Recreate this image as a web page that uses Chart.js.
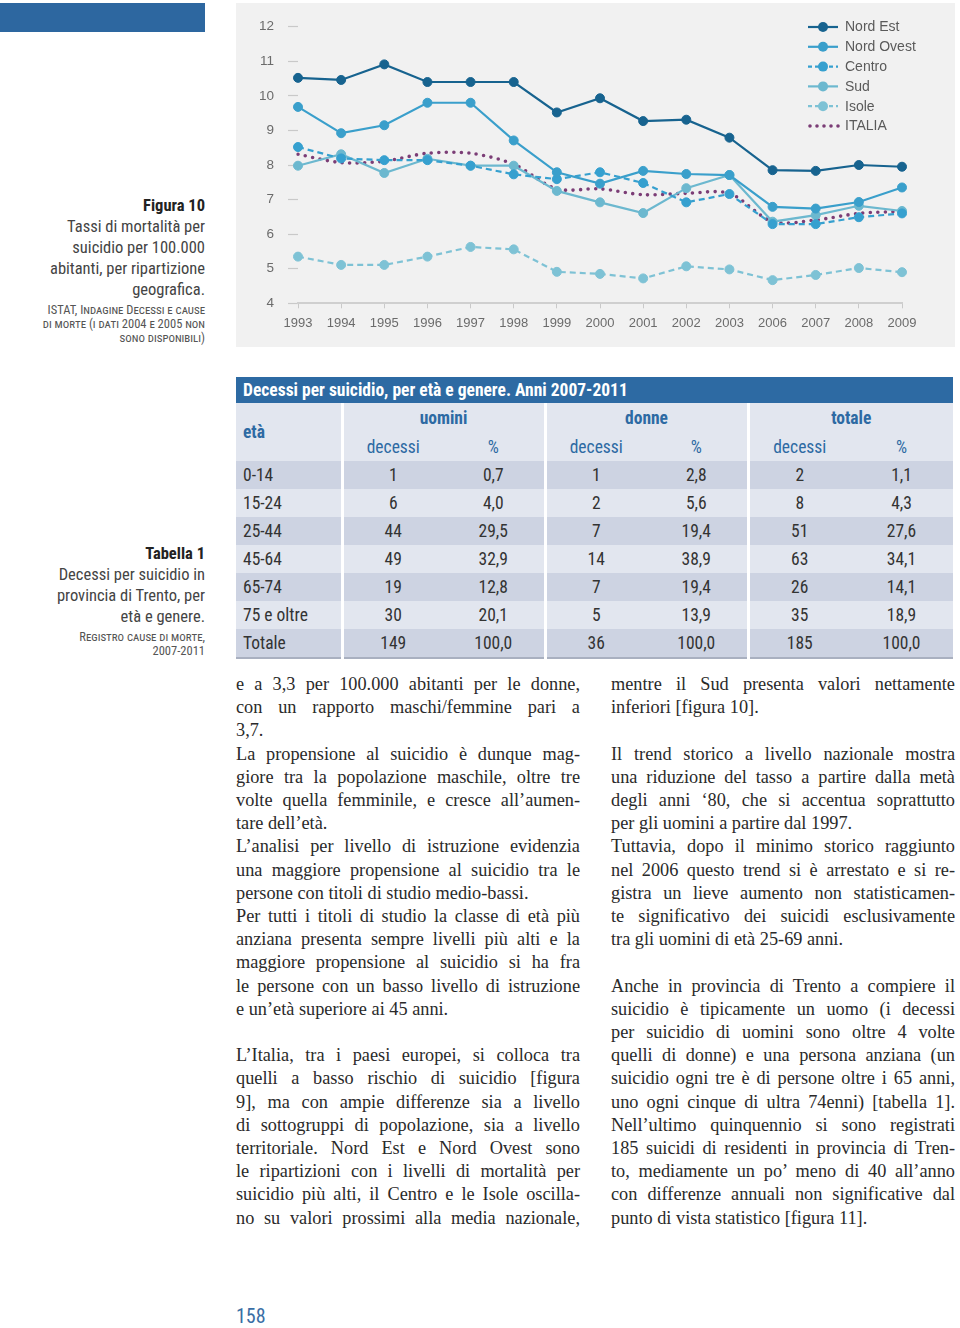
<!DOCTYPE html>
<html>
<head>
<meta charset="utf-8">
<script src="https://cdn.jsdelivr.net/npm/chart.js@4.4.1/dist/chart.umd.min.js"></script>
<style>
  html, body { margin:0; padding:0; background:#fff; }
  body { width:960px; height:1328px; position:relative; overflow:hidden; }
  .abs { position:absolute; }
  .cond { font-family:"Liberation Sans Narrow","Roboto Condensed","Roboto",sans-serif; }
  #topbar { left:0; top:3px; width:205px; height:29px; background:#2d67a0; }
  #panel { left:236px; top:3px; width:719px; height:344px; background:#f1f1f1; }
  #panel canvas { display:block; }
  .cap { right:755px; text-align:right; color:#333; }
  .cap .t { font-weight:bold; font-size:16.5px; color:#222; line-height:21px; }
  .cap .d { font-size:16.5px; line-height:21px; color:#444; }
  .cap .s { font-variant:small-caps; font-size:12.5px; line-height:14px; color:#555; margin-top:3px; }
  table { border-collapse:collapse; }
  #tbl { left:236px; top:377px; width:717px; table-layout:fixed; font-size:17.5px; color:#333; }
  #tbl td { padding:0; height:28px; text-align:center; }
  #tbl tr.title td { background:#2d6aa3; color:#fff; font-weight:bold; text-align:left; padding-left:7px; height:26px; }
  #tbl tr.h td { background:#e2e6ef; color:#2d6aa3; height:29px; }
  #tbl tr.h td.g { font-weight:bold; }
  #tbl tr.dk td { background:#cdd3e2; }
  #tbl tr.lt td { background:#e2e6ef; }
  #tbl td.sep { border-left:3px solid #fff; }
  #tbl td.lbl { text-align:left; padding-left:7px; }
  #tbl tr.last td { border-bottom:2px solid #a9b0c0; }
  .col { width:344px; font-family:"Liberation Serif","Times New Roman",serif; font-size:18.3px; line-height:23.2px; color:#2a2a2a; }
  .col div { text-align:justify; text-align-last:justify; white-space:nowrap; }
  .col div.l { text-align-last:left; }
  .col div.b { height:23.2px; }
  #pg { left:236px; top:1304px; font-size:20px; color:#3a6ea5; }
</style>
</head>
<body>
<div id="topbar" class="abs"></div>
<div id="panel" class="abs"><canvas id="c" width="719" height="344"></canvas></div>

<div class="abs cap cond" style="top:195px;">
  <div class="t">Figura 10</div>
  <div class="d">Tassi di mortalità per<br>suicidio per 100.000<br>abitanti, per ripartizione<br>geografica.</div>
  <div class="s">ISTAT, Indagine Decessi e cause<br>di morte (i dati 2004 e 2005 non<br>sono disponibili)</div>
</div>

<div class="abs cap cond" style="top:543px;">
  <div class="t">Tabella 1</div>
  <div class="d">Decessi per suicidio in<br>provincia di Trento, per<br>età e genere.</div>
  <div class="s">Registro cause di morte,<br>2007-2011</div>
</div>

<table id="tbl" class="abs cond">
  <colgroup><col style="width:106px"><col style="width:101px"><col style="width:102px"><col style="width:101px"><col style="width:102px"><col style="width:102px"><col style="width:103px"></colgroup>
  <tbody id="tb"></tbody>
</table>

<div class="abs col" style="left:236px; top:673px;" id="colL"></div>
<div class="abs col" style="left:611px; top:673px;" id="colR"></div>

<div id="pg" class="abs cond">158</div>

<script>
// ---------- chart data ----------
const years = ['1993','1994','1995','1996','1997','1998','1999','2000','2001','2002','2003','2006','2007','2008','2009'];
const nordEst   = [10.52,10.46,10.91,10.40,10.40,10.40,9.52,9.93,9.27,9.31,8.79,7.85,7.83,8.00,7.95];
const nordOvest = [9.68,8.92,9.15,9.80,9.80,8.71,7.79,7.46,7.83,7.74,7.71,6.79,6.74,6.93,7.35];
const centro    = [8.52,8.19,8.14,8.14,7.98,7.73,7.59,7.79,7.48,6.92,7.16,6.29,6.29,6.49,6.60];
const sud       = [7.98,8.31,7.77,8.18,7.98,7.98,7.25,6.92,6.61,7.33,7.71,6.36,6.55,6.82,6.67];
const isole     = [5.35,5.11,5.11,5.35,5.63,5.56,4.91,4.85,4.72,5.07,4.98,4.67,4.82,5.02,4.90];
const italia    = [8.31,8.07,8.11,8.34,8.34,8.02,7.31,7.31,7.14,7.18,7.18,6.36,6.41,6.60,6.66];
const seriesNames = ['Nord Est','Nord Ovest','Centro','Sud','Isole','ITALIA'];

// ---------- table data ----------
const tableTitle = 'Decessi per suicidio, per età e genere. Anni 2007-2011';
const ageClasses = ['0-14','15-24','25-44','45-64','65-74','75 e oltre','Totale'];
const uominiDecessi = ['1','6','44','49','19','30','149'];
const uominiPct     = ['0,7','4,0','29,5','32,9','12,8','20,1','100,0'];
const donneDecessi  = ['1','2','7','14','7','5','36'];
const donnePct      = ['2,8','5,6','19,4','38,9','19,4','13,9','100,0'];
const totaleDecessi = ['2','8','51','63','26','35','185'];
const totalePct     = ['1,1','4,3','27,6','34,1','14,1','18,9','100,0'];

// build table
(function(){
  const tb = document.getElementById('tb');
  let h = '<tr class="title"><td colspan="7">'+tableTitle+'</td></tr>';
  h += '<tr class="h"><td class="lbl g" rowspan="2" style="vertical-align:middle">età</td>'+
       '<td class="g sep" colspan="2">uomini</td><td class="g sep" colspan="2">donne</td><td class="g sep" colspan="2">totale</td></tr>';
  h += '<tr class="h"><td class="sep">decessi</td><td>%</td><td class="sep">decessi</td><td>%</td><td class="sep">decessi</td><td>%</td></tr>';
  ageClasses.forEach((a,i)=>{
    const cls = (i%2===0?'dk':'lt') + (i===ageClasses.length-1?' last':'');
    h += '<tr class="'+cls+'"><td class="lbl">'+a+'</td><td class="sep">'+uominiDecessi[i]+'</td><td>'+uominiPct[i]+
         '</td><td class="sep">'+donneDecessi[i]+'</td><td>'+donnePct[i]+'</td><td class="sep">'+totaleDecessi[i]+'</td><td>'+totalePct[i]+'</td></tr>';
  });
  tb.innerHTML = h;
})();

// ---------- body text ----------
const leftLines = [
 ['e a 3,3 per 100.000 abitanti per le donne,','j'],
 ['con un rapporto maschi/femmine pari a','j'],
 ['3,7.','l'],
 ['La propensione al suicidio è dunque mag-','j'],
 ['giore tra la popolazione maschile, oltre tre','j'],
 ['volte quella femminile, e cresce all’aumen-','j'],
 ['tare dell’età.','l'],
 ['L’analisi per livello di istruzione evidenzia','j'],
 ['una maggiore propensione al suicidio tra le','j'],
 ['persone con titoli di studio medio-bassi.','l'],
 ['Per tutti i titoli di studio la classe di età più','j'],
 ['anziana presenta sempre livelli più alti e la','j'],
 ['maggiore propensione al suicidio si ha fra','j'],
 ['le persone con un basso livello di istruzione','j'],
 ['e un’età superiore ai 45 anni.','l'],
 ['','b'],
 ['L’Italia, tra i paesi europei, si colloca tra','j'],
 ['quelli a basso rischio di suicidio [figura','j'],
 ['9], ma con ampie differenze sia a livello','j'],
 ['di sottogruppi di popolazione, sia a livello','j'],
 ['territoriale. Nord Est e Nord Ovest sono','j'],
 ['le ripartizioni con i livelli di mortalità per','j'],
 ['suicidio più alti, il Centro e le Isole oscilla-','j'],
 ['no su valori prossimi alla media nazionale,','j']
];
const rightLines = [
 ['mentre il Sud presenta valori nettamente','j'],
 ['inferiori [figura 10].','l'],
 ['','b'],
 ['Il trend storico a livello nazionale mostra','j'],
 ['una riduzione del tasso a partire dalla metà','j'],
 ['degli anni ‘80, che si accentua soprattutto','j'],
 ['per gli uomini a partire dal 1997.','l'],
 ['Tuttavia, dopo il minimo storico raggiunto','j'],
 ['nel 2006 questo trend si è arrestato e si re-','j'],
 ['gistra un lieve aumento non statisticamen-','j'],
 ['te significativo dei suicidi esclusivamente','j'],
 ['tra gli uomini di età 25-69 anni.','l'],
 ['','b'],
 ['Anche in provincia di Trento a compiere il','j'],
 ['suicidio è tipicamente un uomo (i decessi','j'],
 ['per suicidio di uomini sono oltre 4 volte','j'],
 ['quelli di donne) e una persona anziana (un','j'],
 ['suicidio ogni tre è di persone oltre i 65 anni,','j'],
 ['uno ogni cinque di ultra 74enni) [tabella 1].','j'],
 ['Nell’ultimo quinquennio si sono registrati','j'],
 ['185 suicidi di residenti in provincia di Tren-','j'],
 ['to, mediamente un po’ meno di 40 all’anno','j'],
 ['con differenze annuali non significative dal','j'],
 ['punto di vista statistico [figura 11].','l']
];
function fill(id, lines){
  const el = document.getElementById(id);
  lines.forEach(([t,k])=>{
    const d = document.createElement('div');
    if (k==='l') d.className='l';
    if (k==='b') d.className='b';
    d.textContent = t;
    el.appendChild(d);
  });
}
fill('colL', leftLines);
fill('colR', rightLines);

// ---------- chart ----------
Chart.defaults.font.family = '"Liberation Sans", Arial, sans-serif';
const cNE = '#17638f', cNO = '#3a9fcb', cCE = '#36a0cf', cSU = '#6cb8cf', cIS = '#7ec2d5', cIT = '#7b3d76';
function ds(label, data, color, dash, extra){
  return Object.assign({
    label, data, borderColor:color, backgroundColor:color,
    pointBackgroundColor:color, pointBorderColor:color,
    borderWidth:2.2, borderDash:dash, pointRadius:4.5, pointBorderWidth:1,
    pointHoverRadius:4.5, tension:0, fill:false
  }, extra||{});
}
const datasets = [
  ds(seriesNames[0], nordEst, cNE, []),
  ds(seriesNames[1], nordOvest, cNO, []),
  ds(seriesNames[2], centro, cCE, [6,4]),
  ds(seriesNames[3], sud, cSU, []),
  ds(seriesNames[4], isole, cIS, [6,4]),
  ds(seriesNames[5], italia, cIT, [0,7.5], {pointRadius:0, borderWidth:3.6, borderCapStyle:'round', tension:0.3})
];

const legendPlugin = {
  id:'customLegend',
  afterDraw(chart){
    const ctx = chart.ctx;
    const x1 = 572, x2 = 602, xt = 609;
    const y0 = 24, dy = 19.8;
    chart.data.datasets.forEach((d,i)=>{
      const y = y0 + i*dy;
      ctx.save();
      ctx.strokeStyle = d.borderColor;
      ctx.lineWidth = d.borderWidth;
      ctx.lineCap = d.borderCapStyle || 'butt';
      if (d.pointRadius === 0) {
        ctx.setLineDash([0,7]);
        ctx.beginPath(); ctx.moveTo(x1+2,y); ctx.lineTo(x2+1,y); ctx.stroke();
      } else {
        ctx.setLineDash(d.borderDash.length ? [4,3] : []);
        ctx.beginPath(); ctx.moveTo(x1,y); ctx.lineTo(x2,y); ctx.stroke();
        ctx.setLineDash([]);
        ctx.fillStyle = d.pointBackgroundColor;
        ctx.beginPath(); ctx.arc((x1+x2)/2, y, 5, 0, Math.PI*2); ctx.fill();
      }
      ctx.restore();
      ctx.save();
      ctx.fillStyle = '#5a5a5a';
      ctx.font = '14px "Liberation Sans", Arial, sans-serif';
      ctx.textBaseline = 'middle';
      ctx.fillText(d.label, xt, y+0.5);
      ctx.restore();
    });
  }
};

new Chart(document.getElementById('c'), {
  type:'line',
  data:{ labels:years, datasets },
  options:{
    responsive:false, animation:false, events:[],
    layout:{ padding:{ left:0, right:53, top:23.7, bottom:0 } },
    plugins:{ legend:{display:false}, tooltip:{enabled:false} },
    scales:{
      x:{
        offset:false,
        afterFit(s){ s.height = 43.7; },
        grid:{ display:true, drawOnChartArea:false, drawTicks:true, tickLength:5, color:'#c9c9c9', tickColor:'#c9c9c9' },
        border:{ display:true, color:'#cfcfcf', width:2 },
        ticks:{ color:'#6b6b6b', font:{size:13}, padding:7, maxRotation:0, autoSkip:false }
      },
      y:{
        min:4, max:12,
        afterFit(s){ s.width = 62; },
        grid:{ display:true, drawOnChartArea:false, drawTicks:true, tickLength:16, tickColor:'#c9c9c9', tickWidth:1.2, tickBorderDash:[10,6], tickBorderDashOffset:10 },
        border:{ display:false },
        ticks:{ stepSize:1, color:'#6b6b6b', font:{size:13.5}, padding:8 }
      }
    }
  },
  plugins:[legendPlugin]
});
</script>
</body>
</html>
